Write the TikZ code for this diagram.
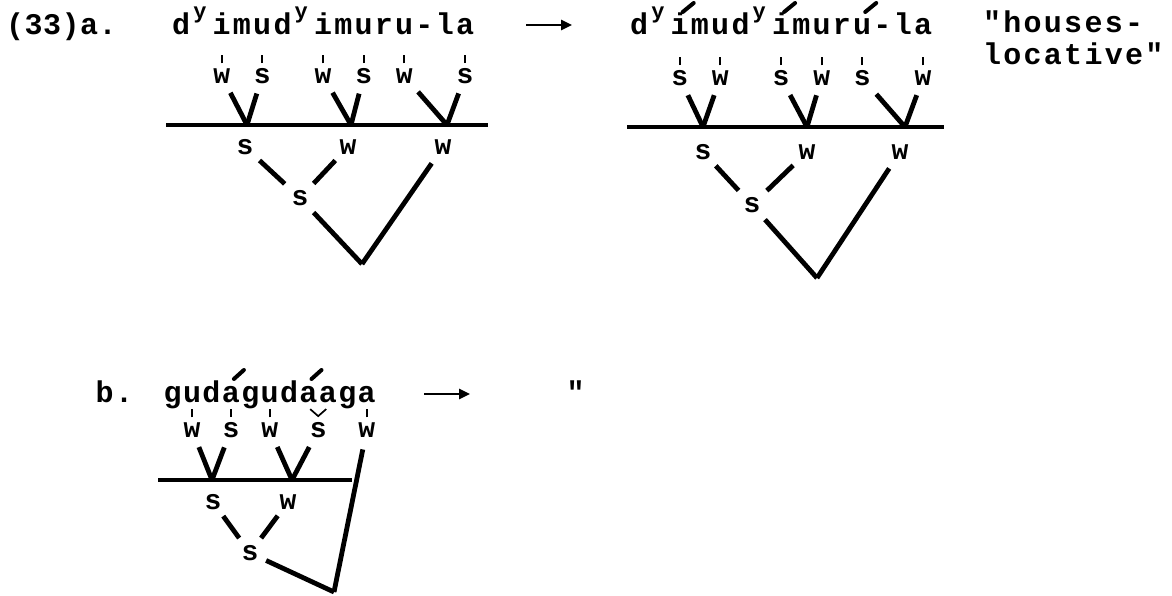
\documentclass[tikz,border=0pt]{standalone}
\usepackage{fontspec}
\setmainfont{Liberation Mono}[Ligatures=TeXOff]
\usetikzlibrary{arrows.meta}
\newlength\cw
\setlength\cw{20.28pt}
\def\spr#1{\ifx#1\relax\else\makebox[\cw][c]{#1}\expandafter\spr\fi}
\newcommand\sy{\hspace*{-3pt}\raisebox{16pt}{\fontsize{22}{22}\selectfont y}}
\begin{document}
\begin{tikzpicture}[x=1pt,y=-1pt,
  tt/.style={font=\fontsize{30}{34}\selectfont\bfseries, inner sep=0pt, outer sep=0pt, anchor=base west},
  lab/.style={font=\fontsize{28}{30}\selectfont\bfseries, inner sep=3pt},
  tk/.style={line width=1.7pt},
  br/.style={line width=4.8pt},
  barl/.style={line width=4.2pt},
  acc/.style={line width=4pt, line cap=round},
  arr/.style={line width=2.6pt, -{Triangle[length=11pt,width=10pt]}}]
\path[fill=white] (0,0) rectangle (1172,596);
\useasboundingbox (0,0) rectangle (1172,596);

% ---------- (33)a. left ----------
\node[tt] (num) at (6,35) {\setlength\cw{18.5pt}\spr(33)a.\relax};
\node[tt] (wa) at (171,35) {\spr d{\sy}imud{\sy}imuru-la\relax};
\foreach \n/\k/\t in {1/2/w,2/4/s,3/7/w,4/9/s,5/11/w,6/14/s}
  \node[lab] (aL\n) at ({171+(\k+0.5)*20.28},76) {\t};
\foreach \n in {1,...,6}
  \draw[tk] (aL\n.north) ++(0,-2) -- ++(0,-8);
\coordinate (av1) at (247,125);
\coordinate (av2) at (351,125);
\coordinate (av3) at (447,125);
\coordinate (abL) at (166,125);
\coordinate (abR) at (488,125);
\draw[barl] (abL) -- (abR);
\draw[br, shorten <=7pt] (aL1) -- (av1);
\draw[br, shorten <=7pt] (aL2) -- (av1);
\draw[br, shorten <=7pt] (aL3) -- (av2);
\draw[br, shorten <=7pt] (aL4) -- (av2);
\draw[br, shorten <=7pt] (aL5) -- (av3);
\draw[br, shorten <=7pt] (aL6) -- (av3);
\node[lab] (aS1) at (245,147) {s};
\node[lab] (aS2) at (348,147) {w};
\node[lab] (aS3) at (443,147) {w};
\node[lab] (aM) at (300,198) {s};
\coordinate (aB) at (362,264);
\draw[br, shorten <=4pt, shorten >=5pt] (aS1) -- (aM);
\draw[br, shorten <=4pt, shorten >=5pt] (aS2) -- (aM);
\draw[br, shorten <=5pt] (aM) -- (aB);
\draw[br, shorten <=7pt] (aS3) -- (aB);

% ---------- arrow a ----------
\coordinate (ara1) at (526,25);
\coordinate (ara2) at (572,25);
\draw[arr] (ara1) -- (ara2);

% ---------- (33)a. right ----------
\node[tt] (wb) at (629,35) {\spr d{\sy}imud{\sy}imuru-la\relax};
\foreach \k in {2,7,11}
  \draw[acc] ({629+(\k+0.5)*20.28+3},12) -- ++(11,-9);
\foreach \n/\k/\t in {1/2/s,2/4/w,3/7/s,4/9/w,5/11/s,6/14/w}
  \node[lab] (bL\n) at ({629+(\k+0.5)*20.28},78) {\t};
\foreach \n in {1,...,6}
  \draw[tk] (bL\n.north) ++(0,-2) -- ++(0,-8);
\coordinate (bv1) at (703,127);
\coordinate (bv2) at (807,127);
\coordinate (bv3) at (905,127);
\coordinate (bbL) at (627,127);
\coordinate (bbR) at (944,127);
\draw[barl] (bbL) -- (bbR);
\draw[br, shorten <=7pt] (bL1) -- (bv1);
\draw[br, shorten <=7pt] (bL2) -- (bv1);
\draw[br, shorten <=7pt] (bL3) -- (bv2);
\draw[br, shorten <=7pt] (bL4) -- (bv2);
\draw[br, shorten <=7pt] (bL5) -- (bv3);
\draw[br, shorten <=7pt] (bL6) -- (bv3);
\node[lab] (bS1) at (703,152) {s};
\node[lab] (bS2) at (807,152) {w};
\node[lab] (bS3) at (900,152) {w};
\node[lab] (bM) at (752,205) {s};
\coordinate (bB) at (817,278);
\draw[br, shorten <=4pt, shorten >=5pt] (bS1) -- (bM);
\draw[br, shorten <=4pt, shorten >=5pt] (bS2) -- (bM);
\draw[br, shorten <=5pt] (bM) -- (bB);
\draw[br, shorten <=7pt] (bS3) -- (bB);
\node[tt] (gl1) at (982,33) {\spr"houses-\relax};
\node[tt] (gl2) at (982,65) {\spr locative"\relax};

% ---------- b. ----------
\node[tt] (numb) at (95,402) {\setlength\cw{19.4pt}\spr b.\relax};
\node[tt] (wc) at (163,402) {\setlength\cw{19.4pt}\spr gudagudaaga\relax};
\foreach \k in {3,7}
  \draw[acc] ({163+(\k+0.5)*19.4+3},379) -- ++(10,-9);
\foreach \n/\x/\t in {1/192.1/w,2/230.9/s,3/269.7/w,4/318.2/s,5/366.7/w}
  \node[lab] (cL\n) at (\x,430) {\t};
\foreach \n in {1,2,3,5}
  \draw[tk] (cL\n.north) ++(0,-2) -- ++(0,-8);
\draw[tk] (cL4.north) ++(-8,-10) -- ++(8,7) -- ++(8,-7);
\coordinate (cv1) at (212,480);
\coordinate (cv2) at (292,480);
\coordinate (cbL) at (158,480);
\coordinate (cbR) at (352,480);
\draw[barl] (cbL) -- (cbR);
\draw[br, shorten <=7pt] (cL1) -- (cv1);
\draw[br, shorten <=7pt] (cL2) -- (cv1);
\draw[br, shorten <=7pt] (cL3) -- (cv2);
\draw[br, shorten <=7pt] (cL4) -- (cv2);
\node[lab] (cS1) at (213,502) {s};
\node[lab] (cS2) at (288,502) {w};
\node[lab] (cM) at (250,553) {s};
\coordinate (cB) at (334,592);
\draw[br, shorten <=4pt, shorten >=5pt] (cS1) -- (cM);
\draw[br, shorten <=4pt, shorten >=5pt] (cS2) -- (cM);
\draw[br, shorten <=5pt] (cM) -- (cB);
\draw[br, shorten <=9pt] (cL5) -- (cB);
\coordinate (arb1) at (424,394);
\coordinate (arb2) at (470,394);
\draw[arr] (arb1) -- (arb2);
\node[tt] (dit) at (566,402) {\setlength\cw{19.4pt}\spr"\relax};
\end{tikzpicture}
\end{document}
